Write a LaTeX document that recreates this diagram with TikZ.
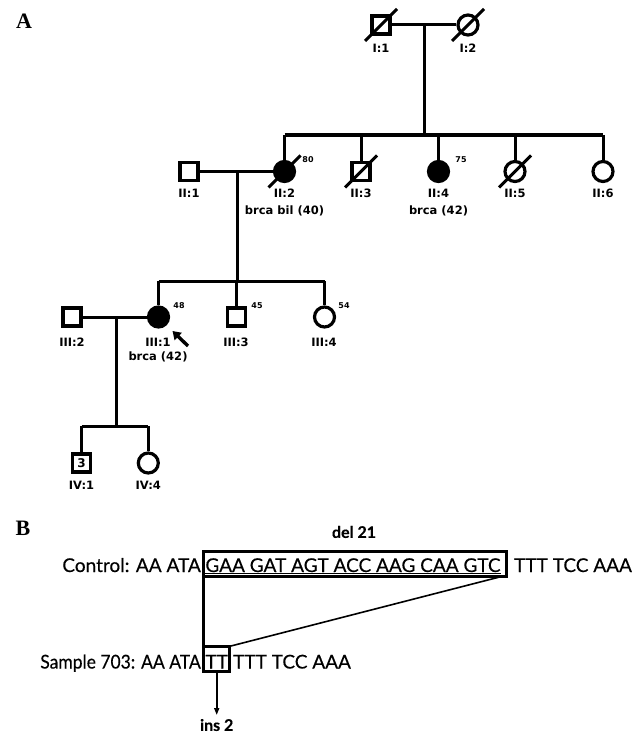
\documentclass[tikz,border=0pt]{standalone}
\usepackage{fontspec}
\setmainfont{Liberation Serif}
\newfontfamily\pedfont{DejaVu Sans}
\newfontfamily\seqfont[FakeBold=0.3]{Lato}
\usetikzlibrary{arrows.meta}

% slash through a deceased individual
\newcommand{\deceased}[1]{\draw[ped] ([shift={(-16,16)}]#1.center) -- ([shift={(16,-16)}]#1.center);}

\begin{document}
\begin{tikzpicture}[x=1pt, y=-1pt,
  male/.style={draw, rectangle, minimum size=18pt, inner sep=0pt, line width=3.2pt},
  female/.style={draw, circle, minimum size=20pt, inner sep=0pt, line width=3.2pt},
  ped/.style={line width=3pt},
  idlab/.style={font=\pedfont\bfseries\fontsize{11.5}{12}\selectfont, inner sep=0pt},
  agelab/.style={font=\pedfont\bfseries\fontsize{8}{9}\selectfont, inner sep=0pt},
  seq/.style={font=\seqfont\fontsize{19}{21}\selectfont, inner sep=0pt},
  seqbold/.style={font=\seqfont\bfseries\fontsize{16}{18}\selectfont, inner sep=0pt},
  seqbox/.style={draw, line width=3pt, inner sep=0pt, outer sep=0pt},
  panel/.style={font=\bfseries\fontsize{22}{24}\selectfont, inner sep=0pt}]

  \useasboundingbox (0,0) rectangle (641,733);

  % --- 1. panel labels ---
  \node[panel] (labA) at (24,21) {A};
  \node[panel] (labB) at (23,528) {B};

  % --- 2. generation I ---
  \node[male] (I1) at (381,25) {};
  \node[female] (I2) at (468,25) {};
  \deceased{I1}
  \deceased{I2}
  \draw[ped] (I1) -- (I2);
  \coordinate (m1) at (424,25);
  \coordinate (s2) at (424,135);
  \draw[ped] (m1) -- (s2);
  \node[idlab] (I1l) at (381,48) {I:1};
  \node[idlab] (I2l) at (468,48) {I:2};

  % --- 3. generation II ---
  \node[male] (II1) at (189,171.5) {};
  \node[female, fill=black] (II2) at (284.5,171.5) {};
  \node[male] (II3) at (361,171.5) {};
  \node[female, fill=black] (II4) at (438.5,171.5) {};
  \node[female] (II5) at (515,171.5) {};
  \node[female] (II6) at (603,171.5) {};
  \deceased{II2}
  \deceased{II3}
  \deceased{II5}
  % sibship line and drops
  \draw[ped] (II2 |- s2) -- (II6 |- s2);
  \foreach \k in {II2,II3,II4,II5,II6}
    \draw[ped] (\k |- s2) -- (\k);
  \draw[ped] (II1) -- (II2);
  \node[agelab] (II2a) at (308,160) {80};
  \node[agelab] (II4a) at (461,160) {75};
  \node[idlab] (II1l) at (189,193) {II:1};
  \node[idlab] (II2l) at (284.5,193) {II:2};
  \node[idlab] (II3l) at (361,193) {II:3};
  \node[idlab] (II4l) at (438.5,193) {II:4};
  \node[idlab] (II5l) at (515,193) {II:5};
  \node[idlab] (II6l) at (603,193) {II:6};
  \node[idlab] (II2d) at (284.5,211) {brca bil (40)};
  \node[idlab] (II4d) at (438.5,211) {brca (42)};

  % --- 4. generation III ---
  \coordinate (m2) at (237,171.5);
  \coordinate (s3) at (237,281);
  \draw[ped] (m2) -- (s3);
  \node[male] (III2) at (72,317) {};
  \node[female, fill=black] (III1) at (158.5,317) {};
  \node[male] (III3) at (236.5,317) {};
  \node[female] (III4) at (324.5,317) {};
  \draw[ped] (III1 |- s3) -- (III4 |- s3);
  \foreach \k in {III1,III3,III4}
    \draw[ped] (\k |- s3) -- (\k);
  \draw[ped] (III2) -- (III1);
  \node[agelab] (III1a) at (179,306) {48};
  \node[agelab] (III3a) at (257,306) {45};
  \node[agelab] (III4a) at (344,306) {54};
  \node[idlab] (III2l) at (72,342) {III:2};
  \node[idlab] (III1l) at (158,342) {III:1};
  \node[idlab] (III3l) at (236,342) {III:3};
  \node[idlab] (III4l) at (324,342) {III:4};
  \node[idlab] (III1d) at (158,357) {brca (42)};
  % proband
  \coordinate (pbtail) at (188,346);
  \coordinate (pbhead) at (172.5,331);
  \draw[line width=3.4pt, -{Triangle[length=8pt,width=10pt]}] (pbtail) -- (pbhead);

  % --- 5. generation IV ---
  \coordinate (m3) at (116,317);
  \coordinate (s4) at (116,426);
  \draw[ped] (m3) -- (s4);
  \node[male, font=\pedfont\bfseries\fontsize{12}{12}\selectfont] (IV1) at (81.5,463) {3};
  \node[female] (IV4) at (148.3,463) {};
  \draw[ped] (IV1 |- s4) -- (IV4 |- s4);
  \draw[ped] (IV1 |- s4) -- (IV1);
  \draw[ped] (IV4 |- s4) -- (IV4);
  \node[idlab] (IV1l) at (81.5,485) {IV:1};
  \node[idlab] (IV4l) at (148.3,485) {IV:4};

  % --- 6. sequences (B) ---
  \node[seqbox, minimum width=302.7pt, minimum height=25pt] (delbox) at (355.2,564) {};
  \node[seq, anchor=base] (delseq) at (353,572) {\underline{GAA GAT AGT ACC AAG CAA GTC}};
  \node[seq, anchor=base east] (ctlpre) at (201,572) {Control: AA ATA};
  \node[seq, anchor=base west] (ctlsuf) at (514,572) {TTT TCC AAA};
  \node[seqbold] (dellab) at (354,532) {del 21};

  \node[seqbox, minimum width=25.7pt, minimum height=25.3pt] (insbox) at (216.7,659) {};
  \node[seq, anchor=base] (insseq) at (216.7,668.5) {TT};
  \node[seq, anchor=base east] (smppre) at (201,668.5) {\scalebox{0.92}[1]{Sample 703: AA ATA}};
  \node[seq, anchor=base west] (smpsuf) at (233,668.5) {TTT TCC AAA};

  \draw[line width=3pt] (delbox.south west) -- (insbox.north west);
  \draw[line width=1.6pt] (insbox.north east) -- ([xshift=-5pt]delbox.south east);
  \coordinate (insend) at (216.7,715);
  \draw[line width=1.6pt, -{Triangle[length=7pt,width=5pt]}] (insbox.south) -- (insend);
  \node[seqbold] (inslab) at (216.7,725) {ins 2};

\end{tikzpicture}
\end{document}
